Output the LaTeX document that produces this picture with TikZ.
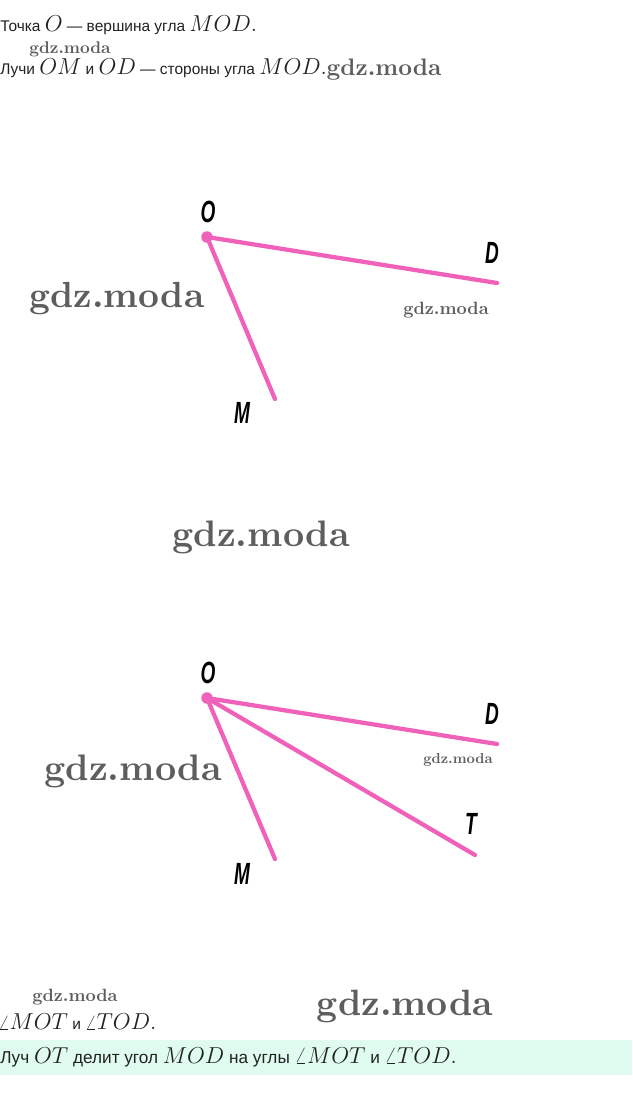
\documentclass[tikz,border=0pt]{standalone}
\usepackage{fontspec}
\usepackage{graphicx}
\newfontfamily\sansfont{Liberation Sans}
\definecolor{rose}{HTML}{F062B9}
\definecolor{band}{HTML}{E0FBEF}
\definecolor{wmgray}{HTML}{5E5E5E}
\definecolor{txt}{HTML}{222222}
\newcommand\mth[1]{{\fontsize{16}{18}\selectfont$#1$}}
\newcommand\mthb[1]{{\fontsize{17.8}{19}\selectfont$#1$}}
\newcommand\wmtext[1]{\resizebox{#1}{!}{\rmfamily\bfseries gdz.moda}}
\tikzset{
  ray/.style={draw=rose, line width=3.2pt, line cap=round},
  lbl/.style={font=\sansfont\bfseries\itshape\fontsize{23}{24}\selectfont, text=black, inner sep=0pt},
  para/.style={anchor=west, inner sep=0pt, text=txt, font=\sansfont\fontsize{11.6}{14}\selectfont},
  parab/.style={anchor=west, inner sep=0pt, text=txt, font=\sansfont\fontsize{12.9}{14}\selectfont},
  wm/.style={inner sep=0pt, text=wmgray},
}
\newcommand\lab[1]{\scalebox{0.62}[1]{#1}}
\begin{document}
\begin{tikzpicture}[x=0.75pt,y=-0.75pt]
\useasboundingbox (0,0) rectangle (632,1110);
% text lines
\node[para] (t1) at (0,25) {Точка \mth{O} — вершина угла \mth{MOD.}};
\node[wm] (w1) at (70,49) {\wmtext{61pt}};
\node[para] (t2) at (0,68) {Лучи \mth{OM} и \mth{OD} — стороны угла \mth{MOD.}};
\node[wm] (w2) at (384,70) {\wmtext{86pt}};
% figure 1
\coordinate (O1) at (207,237);
\coordinate (D1) at (497,283);
\coordinate (M1) at (275,399);
\draw[ray] (O1) -- (D1);
\draw[ray] (O1) -- (M1);
\fill[rose] (O1) circle (4.3pt);
\node[lbl] (lO1) at (208,212) {\lab{O}};
\node[lbl] (lD1) at (492,253) {\lab{D}};
\node[lbl] (lM1) at (242,413) {\lab{M}};
\node[wm] (w3) at (117,299) {\wmtext{131pt}};
\node[wm] (w4) at (446,310) {\wmtext{64pt}};
\node[wm] (w5) at (261,537) {\wmtext{133pt}};
% figure 2
\coordinate (O2) at (207,698);
\coordinate (D2) at (497,744);
\coordinate (T2) at (475,855);
\coordinate (M2) at (275,859);
\draw[ray] (O2) -- (D2);
\draw[ray] (O2) -- (T2);
\draw[ray] (O2) -- (M2);
\fill[rose] (O2) circle (4.3pt);
\node[lbl] (lO2) at (208,673) {\lab{O}};
\node[lbl] (lD2) at (492,714) {\lab{D}};
\node[lbl] (lT2) at (471,824) {\lab{T}};
\node[lbl] (lM2) at (242,874) {\lab{M}};
\node[wm] (w6) at (133,771) {\wmtext{133pt}};
\node[wm] (w7) at (458,760) {\wmtext{52pt}};
% bottom
\node[wm] (w8) at (75,997) {\wmtext{64pt}};
\node[wm] (w9) at (405,1006) {\wmtext{132pt}};
\node[para] (t3) at (-2,1022) {\mth{\angle MOT} и \mth{\angle TOD.}};
\fill[band] (0,1040) rectangle (632,1075);
\node[parab] (t4) at (0,1057) {Луч \mthb{OT} делит угол \mthb{MOD} на углы \mthb{\angle MOT} и \mthb{\angle TOD.}};
\end{tikzpicture}
\end{document}
